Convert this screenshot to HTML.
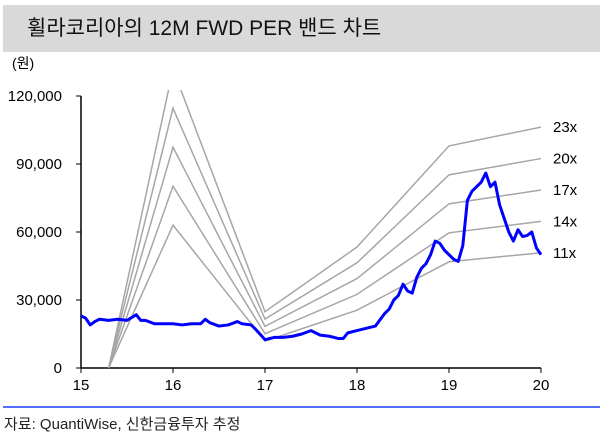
<!DOCTYPE html>
<html><head><meta charset="utf-8"><style>
body{margin:0;width:600px;height:439px;background:#fff;font-family:"Liberation Sans","Noto Sans CJK KR",sans-serif;overflow:hidden}
#t{position:absolute;left:3px;top:5px;width:597px;height:47px;background:#d9d9d9;font-size:21px;line-height:47px;padding-left:24px;box-sizing:border-box;color:#111}
#f{position:absolute;left:4px;top:413px;font-size:15px;color:#222}
svg{position:absolute;left:0;top:0}
</style></head><body>
<div id="t">휠라코리아의 12M FWD PER 밴드 차트</div>
<svg width="600" height="439">
<text x="12" y="68" font-size="14">(원)</text>
<line x1="3" y1="407" x2="600" y2="407" stroke="#1f3fff" stroke-width="1.5"/>
<g id="ax"></g><g id="bands"></g><g id="price"></g>
</svg>
<div id="f">자료: QuantiWise, 신한금융투자 추정</div>
<script>
const yTicks=[0,30000,60000,90000,120000];
const xTicks=[15,16,17,18,19,20];
const multiples=[11,14,17,20,23];
const epsT=[15.3,16,17,18,19,20];
const eps=[0,5730,1080,2320,4260,4620];
const priceT=[15,15.05,15.1,15.15,15.2,15.3,15.4,15.5,15.6,15.65,15.7,15.8,15.9,16,16.1,16.2,16.3,16.35,16.4,16.5,16.6,16.7,16.75,16.85,16.9,17,17.1,17.2,17.3,17.4,17.5,17.6,17.7,17.8,17.85,17.9,18,18.1,18.2,18.3,18.35,18.4,18.45,18.5,18.55,18.6,18.65,18.7,18.75,18.8,18.85,18.9,18.95,19,19.05,19.1,19.15,19.2,19.25,19.3,19.35,19.4,19.45,19.5,19.55,19.6,19.65,19.7,19.75,19.8,19.85,19.9,19.95,20];
const priceV=[23000,22000,19000,20500,21500,21000,21500,21000,23500,21000,21000,19500,19500,19500,19000,19500,19500,21500,20000,18500,19000,20500,19500,19000,17000,12500,13500,13500,14000,15000,16500,14500,14000,13000,13000,15500,16500,17500,18500,24000,26000,30000,32000,37000,34000,33000,40000,44000,46000,50000,56000,55000,52000,50000,48000,47000,54000,74000,78000,80000,82000,86000,80000,82000,72000,66000,60000,56000,61000,58000,58500,60000,53000,50000];
const X=v=>81+(v-15)*92, Y=v=>368-v*272/120000;
const NS="http://www.w3.org/2000/svg";
function mk(tag,attrs,parent,txt){const e=document.createElementNS(NS,tag);for(const k in attrs)e.setAttribute(k,attrs[k]);if(txt!=null)e.textContent=txt;document.getElementById(parent).appendChild(e);return e;}
let e;
e=mk('line',{x1:81,y1:96,x2:81,y2:368,stroke:'#000','stroke-width':1.5},'ax');

e=mk('line',{x1:81,y1:368,x2:541,y2:368,stroke:'#000','stroke-width':1.5},'ax');

yTicks.forEach(v=>{
 e=mk('line',{x1:76,y1:Y(v),x2:81,y2:Y(v),stroke:'#000'},'ax');
 
 e=mk('text',{x:62,y:Y(v)+5,'font-size':15,'text-anchor':'end'},'ax',v.toLocaleString('en-US'));
 
});
xTicks.forEach(v=>{
 e=mk('line',{x1:X(v),y1:368,x2:X(v),y2:373,stroke:'#000'},'ax');
 
 e=mk('text',{x:X(v),y:390,'font-size':15,'text-anchor':'middle'},'ax',String(v));
 
});
mk('clipPath',{id:'cp'},'bands');
e=mk('rect',{x:70,y:90,width:480,height:280},'bands');document.getElementById('cp').appendChild(e);
multiples.forEach(m=>{
 const pts=epsT.map((t,i)=>X(t)+','+Y(eps[i]*m)).join(' ');
 e=mk('polyline',{points:pts,fill:'none',stroke:'#a6a6a6','stroke-width':1.5,'clip-path':'url(#cp)'},'bands');
 
 e=mk('text',{x:553,y:Y(eps[eps.length-1]*m)+5,'font-size':15},'bands',m+'x');
 
});
e=mk('polyline',{points:priceT.map((t,i)=>X(t)+','+Y(priceV[i])).join(' '),fill:'none',stroke:'#0000ff','stroke-width':3,'stroke-linejoin':'round'},'price');

</script>
</body></html>
